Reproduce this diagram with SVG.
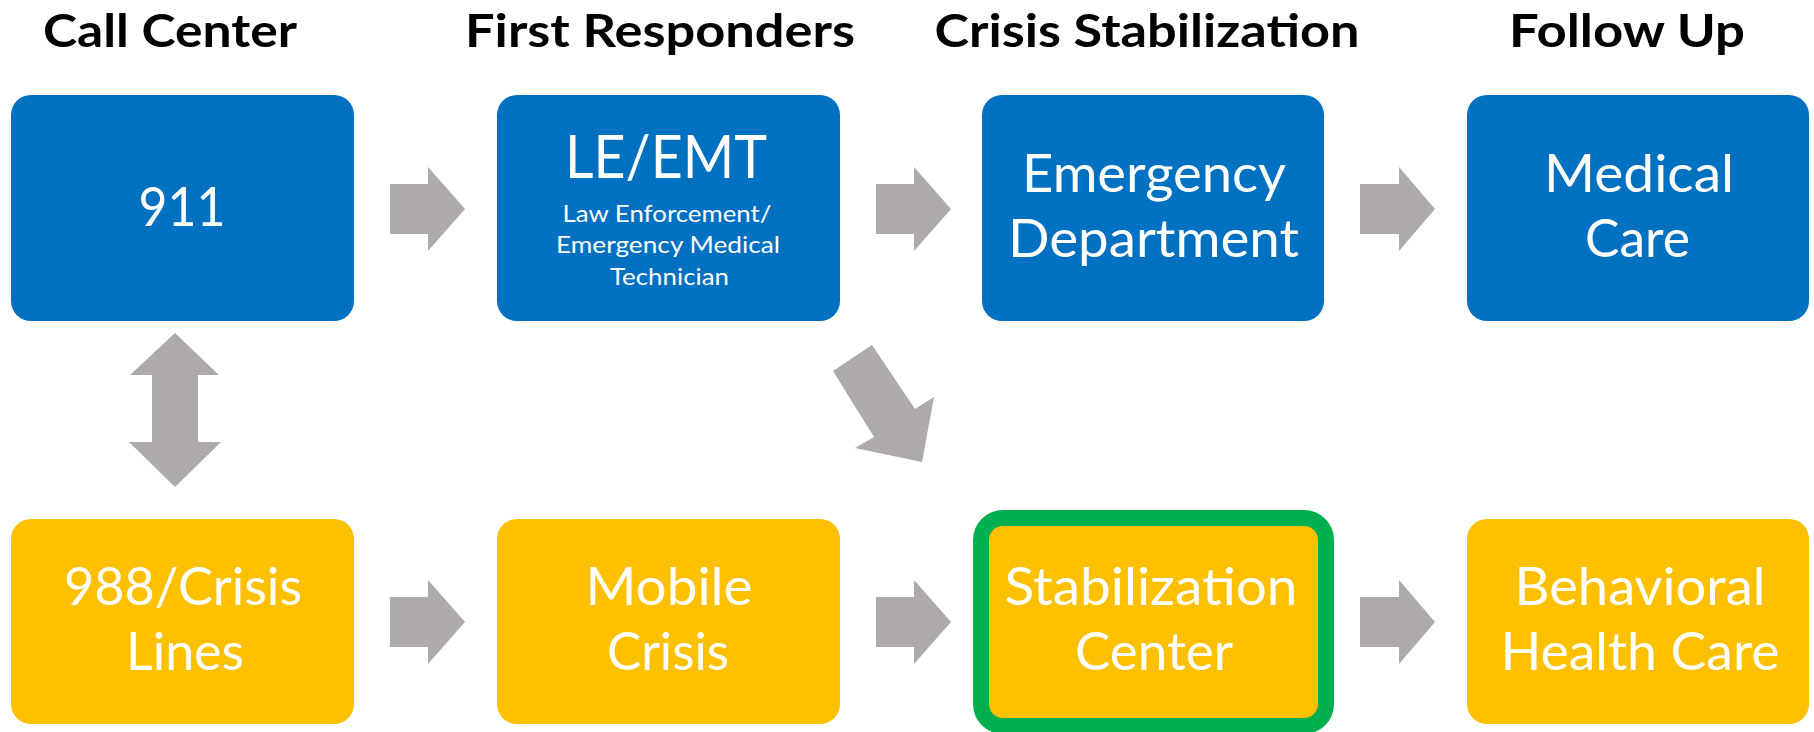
<svg xmlns="http://www.w3.org/2000/svg" width="1814" height="732" viewBox="0 0 1814 732">
<style>
.hdr{font-family:Lato,"Liberation Sans",sans-serif;font-weight:bold;font-size:46px;fill:#000;text-anchor:middle}
.blue{fill:#0070C0}
.yel{fill:#FFC000}
.t{font-family:Lato,"Liberation Sans",sans-serif;fill:#fff;text-anchor:middle}
.big{font-size:52px}
.sub{font-size:24px}
.arr{fill:#AEAAAA}
</style>
<rect width="1814" height="732" fill="#fff"/>
<g id="headers">
<text class="hdr" x="170" y="47" textLength="254" lengthAdjust="spacingAndGlyphs">Call Center</text>
<text class="hdr" x="660" y="47" textLength="390" lengthAdjust="spacingAndGlyphs">First Responders</text>
<text class="hdr" x="1147" y="47" textLength="425" lengthAdjust="spacingAndGlyphs">Crisis Stabilization</text>
<text class="hdr" x="1627" y="47" textLength="236" lengthAdjust="spacingAndGlyphs">Follow Up</text>
</g>
<g id="connectors">
<polygon class="arr" points="390,184 428,184 428,167 465,209 428,251 428,234 390,234"/>
<polygon class="arr" points="876,184 914,184 914,167 951,209 914,251 914,234 876,234"/>
<polygon class="arr" points="1360,184 1399,184 1399,167 1435,209 1399,251 1399,234 1360,234"/>
<polygon class="arr" points="390,597 428,597 428,580 465,622 428,664 428,647 390,647"/>
<polygon class="arr" points="876,597 914,597 914,580 951,622 914,664 914,647 876,647"/>
<polygon class="arr" points="1360,597 1399,597 1399,580 1435,622 1399,664 1399,647 1360,647"/>
<polygon class="arr" points="175,333 219,375 198,375 198,442 221,442 175,487 129,442 152,442 152,375 130,375"/>
<polygon class="arr" points="833,371 872,345 915,409 934,397 922,462 855,448 874,437"/>
</g>
<g id="node-911">
<rect class="blue" x="11" y="95" width="343" height="226" rx="20"/>
<text class="t" x="182" y="226" font-size="54" textLength="87" lengthAdjust="spacingAndGlyphs">911</text>
</g>
<g id="node-le-emt">
<rect class="blue" x="497" y="95" width="343" height="226" rx="20"/>
<text class="t" x="666" y="178" font-size="60" textLength="202" lengthAdjust="spacingAndGlyphs">LE/EMT</text>
<text class="t sub" x="667" y="222" textLength="209" lengthAdjust="spacingAndGlyphs">Law Enforcement/</text>
<text class="t sub" x="668" y="253" textLength="224" lengthAdjust="spacingAndGlyphs">Emergency Medical</text>
<text class="t sub" x="669.5" y="285" textLength="119" lengthAdjust="spacingAndGlyphs">Technician</text>
</g>
<g id="node-ed">
<rect class="blue" x="982" y="95" width="342" height="226" rx="20"/>
<text class="t big" x="1154" y="192" textLength="264" lengthAdjust="spacingAndGlyphs">Emergency</text>
<text class="t big" x="1153.5" y="257" textLength="291" lengthAdjust="spacingAndGlyphs">Department</text>
</g>
<g id="node-medical">
<rect class="blue" x="1467" y="95" width="342" height="226" rx="20"/>
<text class="t big" x="1639" y="192" textLength="190" lengthAdjust="spacingAndGlyphs">Medical</text>
<text class="t big" x="1637.5" y="257" textLength="105" lengthAdjust="spacingAndGlyphs">Care</text>
</g>
<g id="node-988">
<rect class="yel" x="11" y="519" width="343" height="205" rx="20"/>
<text class="t big" x="183" y="605" textLength="238" lengthAdjust="spacingAndGlyphs">988/Crisis</text>
<text class="t big" x="185" y="670" textLength="118" lengthAdjust="spacingAndGlyphs">Lines</text>
</g>
<g id="node-mobile">
<rect class="yel" x="497" y="519" width="343" height="205" rx="20"/>
<text class="t big" x="669" y="605" textLength="167" lengthAdjust="spacingAndGlyphs">Mobile</text>
<text class="t big" x="668" y="670" textLength="122" lengthAdjust="spacingAndGlyphs">Crisis</text>
</g>
<g id="node-stabilization">
<rect class="yel" x="981" y="518" width="345" height="208" rx="22" stroke="#00B050" stroke-width="16"/>
<text class="t big" x="1151" y="605" textLength="293" lengthAdjust="spacingAndGlyphs">Stabilization</text>
<text class="t big" x="1154" y="670" textLength="158" lengthAdjust="spacingAndGlyphs">Center</text>
</g>
<g id="node-behavioral">
<rect class="yel" x="1467" y="519" width="342" height="205" rx="20"/>
<text class="t big" x="1640" y="605" textLength="251" lengthAdjust="spacingAndGlyphs">Behavioral</text>
<text class="t big" x="1640" y="670" textLength="279" lengthAdjust="spacingAndGlyphs">Health Care</text>
</g>
</svg>
